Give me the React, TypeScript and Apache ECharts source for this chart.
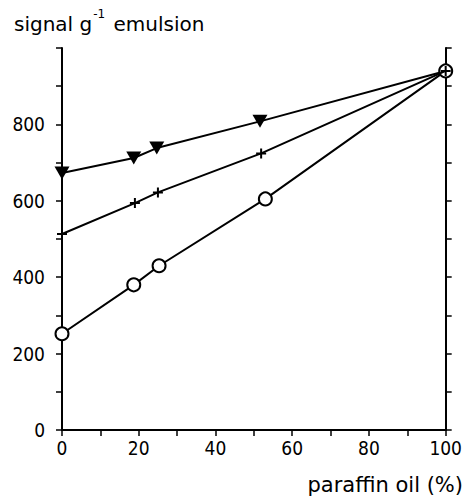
import React, { useEffect, useRef } from "react";
import * as echarts from "echarts";

const xTriangle = [0, 18.7, 24.7, 51.6, 100];
const yTriangle = [673, 712, 738, 808, 940];
const xPlus = [0, 19, 25, 51.9, 100];
const yPlus = [513, 594, 622, 724, 940];
const xCircle = [0, 18.7, 25.3, 53, 100];
const yCircle = [252, 380, 430, 605, 940];

const FONT = "DejaVu Sans Condensed";
const FONT_T = "DejaVu Sans";

export default function App() {
  const ref = useRef<HTMLDivElement>(null);
  useEffect(() => {
    if (!ref.current) return;
    document.body.style.margin = "0";
    document.body.style.overflow = "hidden";
    const chart = echarts.init(ref.current, null, { renderer: "svg" });
    const pairs = (xs: number[], ys: number[]) => xs.map((x, i) => [x, ys[i]]);
    const triData: any[] = pairs(xTriangle, yTriangle).map((p, i) =>
      i === xTriangle.length - 1 ? { value: p, symbol: "none" } : p
    );
    const yAxisBase = {
      type: "value",
      min: 0,
      max: 1000,
      interval: 100,
      splitLine: { show: false },
      axisLine: { show: true, lineStyle: { color: "#000", width: 2 } },
      axisTick: { show: true, inside: false, length: 6, lineStyle: { color: "#000", width: 1.5 } },
    };
    chart.setOption({
      animation: false,
      backgroundColor: "#fff",
      grid: { left: 62, right: 18, top: 48, bottom: 70 },
      xAxis: {
        type: "value",
        min: 0,
        max: 100,
        interval: 10,
        splitLine: { show: false },
        axisLine: { show: true, onZero: false, lineStyle: { color: "#000", width: 2 } },
        axisTick: { show: true, length: 6, lineStyle: { color: "#000", width: 1.5 } },
        axisLabel: {
          color: "#000",
          fontFamily: FONT,
          fontSize: 19,
          margin: 8,
          formatter: (v: number) => (v % 20 === 0 ? String(v) : ""),
        },
      },
      yAxis: [
        {
          ...yAxisBase,
          position: "left",
          axisLabel: {
            color: "#000",
            fontFamily: FONT,
            fontSize: 19,
            margin: 17,
            formatter: (v: number) => (v % 200 === 0 && v < 1000 ? String(v) : ""),
          },
        },
        {
          ...yAxisBase,
          position: "right",
          axisLabel: { show: false },
        },
      ],
      graphic: [
        {
          type: "text",
          left: 14,
          top: 8,
          style: {
            text: "{a|signal g}{s|-1}{a| emulsion}",
            fill: "#000",
            rich: {
              a: { fontFamily: FONT_T, fontSize: 20, fill: "#000", verticalAlign: "bottom", lineHeight: 26 },
              s: { fontFamily: FONT_T, fontSize: 12, fill: "#000", verticalAlign: "top", lineHeight: 26, padding: [0, 2, 10, 1] },
            },
          },
        },
        {
          type: "text",
          right: 2,
          top: 474,
          style: { text: "paraffin oil (%)", fill: "#000", fontFamily: FONT_T, fontSize: 21 },
        },
      ],
      series: [
        {
          type: "line",
          data: triData,
          symbol: "triangle",
          symbolRotate: 180,
          symbolSize: [15, 13],
          lineStyle: { color: "#000", width: 2 },
          itemStyle: { color: "#000" },
          z: 2,
        },
        {
          type: "line",
          data: pairs(xCircle, yCircle),
          symbol: "circle",
          symbolSize: 13,
          lineStyle: { color: "#000", width: 2 },
          itemStyle: { color: "#fff", borderColor: "#000", borderWidth: 2 },
          z: 3,
        },
        {
          type: "line",
          data: pairs(xPlus, yPlus),
          symbol: "path://M4,0h2v10h-2zM0,4h10v2h-10z",
          symbolSize: 10,
          lineStyle: { color: "#000", width: 2 },
          itemStyle: { color: "#000" },
          z: 4,
        },
      ],
    });
    return () => chart.dispose();
  }, []);
  return (
    <div
      ref={ref}
      style={{ position: "fixed", left: 0, top: 0, width: 465, height: 500 }}
    />
  );
}
